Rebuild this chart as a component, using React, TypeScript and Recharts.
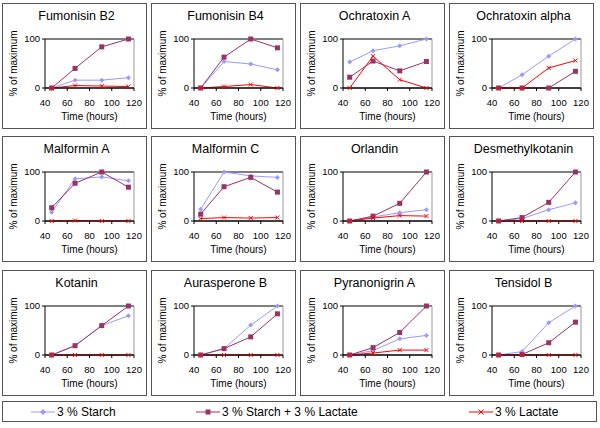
import { CartesianGrid, Line, LineChart, ReferenceLine, XAxis, YAxis } from 'recharts'

const TIMES = [46, 67, 91, 115]
const X_TICKS = [40, 60, 80, 100, 120]
const Y_TICKS = [0, 100]

const TITLES = [
  'Fumonisin B2',
  'Fumonisin B4',
  'Ochratoxin A',
  'Ochratoxin alpha',
  'Malformin A',
  'Malformin C',
  'Orlandin',
  'Desmethylkotanin',
  'Kotanin',
  'Aurasperone B',
  'Pyranonigrin A',
  'Tensidol B',
]

// 3 % Starch
const STARCH = [
  [0, 16, 16, 21],
  [0, 54, 49, 37],
  [53, 76, 86, 100],
  [0, 27, 65, 100],
  [18, 86, 90, 82],
  [24, 100, 92, 89],
  [0, 8, 17, 23],
  [0, 5, 23, 37],
  [0, 19, 60, 80],
  [0, 13, 61, 100],
  [0, 9, 33, 40],
  [0, 7, 66, 100],
]

// 3 % Starch + 3 % Lactate
const BOTH = [
  [0, 40, 84, 100],
  [0, 63, 100, 82],
  [22, 55, 35, 54],
  [0, 0, 0, 34],
  [27, 77, 100, 69],
  [14, 70, 89, 59],
  [0, 10, 36, 100],
  [0, 7, 38, 100],
  [0, 19, 60, 100],
  [0, 13, 37, 84],
  [0, 15, 46, 100],
  [0, 1, 25, 67],
]

// 3 % Lactate
const LACTATE = [
  [0, 5, 4, 3],
  [0, 3, 7, 0],
  [0, 65, 17, 0],
  [0, 0, 41, 56],
  [0, 1, 0, 0],
  [5, 7, 6, 7],
  [0, 6, 11, 10],
  [0, 0, 0, 0],
  [0, 0, 0, 0],
  [0, 0, 0, 0],
  [0, 4, 10, 10],
  [0, 0, 0, 0],
]

const C_STARCH = '#9999ff'
const C_BOTH = '#993366'
const C_LACTATE = '#ff0000'
const FONT = '"Liberation Sans", Arial, sans-serif'

const COL_LEFT = [2, 151, 300, 449]
const ROW_TOP = [3, 136, 270]
const BOX_W = 145
const BOX_H = 126

function diamondDot(props: any) {
  const { cx, cy, index } = props
  if (cx == null || cy == null) return <g key={`d${index}`} />
  const r = 2.5
  return (
    <path
      key={`d${index}`}
      d={`M${cx},${cy - r}L${cx + r},${cy}L${cx},${cy + r}L${cx - r},${cy}Z`}
      fill={C_STARCH}
    />
  )
}

function squareDot(props: any) {
  const { cx, cy, index } = props
  if (cx == null || cy == null) return <g key={`s${index}`} />
  return <rect key={`s${index}`} x={cx - 2.5} y={cy - 2.5} width={5} height={5} fill={C_BOTH} />
}

function crossDot(props: any) {
  const { cx, cy, index } = props
  if (cx == null || cy == null) return <g key={`x${index}`} />
  const r = 2
  return (
    <path
      key={`x${index}`}
      d={`M${cx - r},${cy - r}L${cx + r},${cy + r}M${cx - r},${cy + r}L${cx + r},${cy - r}`}
      stroke={C_LACTATE}
      strokeWidth={1}
    />
  )
}

function yLabel(props: any) {
  const { x, y, height } = props.viewBox
  const lx = x + 10
  const ly = y + height / 2
  return (
    <text
      x={lx}
      y={ly}
      transform={`rotate(-90 ${lx} ${ly})`}
      textAnchor="middle"
      dominantBaseline="central"
      fontSize={10}
      fontFamily={FONT}
      fill="#000"
    >
      % of maximum
    </text>
  )
}

function xLabel(props: any) {
  const { x, y, width } = props.viewBox
  return (
    <text
      x={x + width / 2}
      y={y + 32}
      textAnchor="middle"
      fontSize={10}
      fontFamily={FONT}
      fill="#000"
    >
      Time (hours)
    </text>
  )
}

function Panel({ idx }: { idx: number }) {
  const data = TIMES.map((t, i) => ({
    t,
    starch: STARCH[idx][i],
    both: BOTH[idx][i],
    lactate: LACTATE[idx][i],
  }))
  const left = COL_LEFT[idx % 4]
  const top = ROW_TOP[Math.floor(idx / 4)]
  const tick = { fontSize: 9.5, fontFamily: FONT, fill: '#000' }
  return (
    <div
      style={{
        position: 'absolute',
        left,
        top,
        width: BOX_W,
        height: BOX_H,
        border: '1px solid #555',
        boxSizing: 'border-box',
      }}
    >
      <div
        style={{
          position: 'absolute',
          left: 2,
          top: 5,
          width: BOX_W - 2,
          textAlign: 'center',
          fontSize: 12.5,
          lineHeight: '14px',
          fontFamily: FONT,
        }}
      >
        {TITLES[idx]}
      </div>
      <div style={{ position: 'absolute', left: 0, top: 0 }}>
        <LineChart
          width={BOX_W - 2}
          height={BOX_H - 2}
          data={data}
          margin={{ top: 35, right: 12, bottom: 0, left: 0 }}
        >
          <CartesianGrid vertical={false} stroke="#000" strokeWidth={1} />
          <ReferenceLine x={120} stroke="#999" />
          <XAxis
            type="number"
            dataKey="t"
            domain={[40, 120]}
            ticks={X_TICKS}
            interval={0}
            height={40}
            tickSize={3}
            tickMargin={8}
            tick={tick}
            stroke="#000"
            label={xLabel}
          />
          <YAxis
            type="number"
            domain={[0, 100]}
            ticks={Y_TICKS}
            width={42}
            tickSize={3}
            tickMargin={2}
            tick={tick}
            stroke="#000"
            label={yLabel}
          />
          <Line
            dataKey="starch"
            stroke={C_STARCH}
            strokeWidth={1}
            dot={diamondDot}
            isAnimationActive={false}
          />
          <Line
            dataKey="both"
            stroke={C_BOTH}
            strokeWidth={1}
            dot={squareDot}
            isAnimationActive={false}
          />
          <Line
            dataKey="lactate"
            stroke={C_LACTATE}
            strokeWidth={1}
            dot={crossDot}
            isAnimationActive={false}
          />
        </LineChart>
      </div>
    </div>
  )
}

function LegendEntry({ left, label, kind }: { left: number; label: string; kind: string }) {
  const color = kind === 'starch' ? C_STARCH : kind === 'both' ? C_BOTH : C_LACTATE
  return (
    <div
      style={{
        position: 'absolute',
        left,
        top: 0,
        height: 19,
        display: 'flex',
        alignItems: 'center',
        fontFamily: FONT,
        fontSize: 12,
      }}
    >
      <svg width={24} height={10} style={{ marginRight: 2 }}>
        <line x1={0} y1={5} x2={24} y2={5} stroke={color} strokeWidth={1} />
        {kind === 'starch' && <path d="M12,2L15,5L12,8L9,5Z" fill={color} />}
        {kind === 'both' && <rect x={9.5} y={2.5} width={5} height={5} fill={color} />}
        {kind === 'lactate' && (
          <path d="M9.5,2.5L14.5,7.5M9.5,7.5L14.5,2.5" stroke={color} strokeWidth={1} />
        )}
      </svg>
      <span>{label}</span>
    </div>
  )
}

export default function App() {
  return (
    <div
      style={{
        position: 'absolute',
        left: 0,
        top: 0,
        width: 600,
        height: 428,
        background: '#fff',
        overflow: 'hidden',
      }}
    >
      {TITLES.map((_, i) => (
        <Panel key={i} idx={i} />
      ))}
      <div
        style={{
          position: 'absolute',
          left: 2,
          top: 401,
          width: 595,
          height: 21,
          border: '1px solid #555',
          boxSizing: 'border-box',
        }}
      >
        <LegendEntry left={28} label="3 % Starch" kind="starch" />
        <LegendEntry left={193} label="3 % Starch + 3 % Lactate" kind="both" />
        <LegendEntry left={466} label="3 % Lactate" kind="lactate" />
      </div>
    </div>
  )
}
